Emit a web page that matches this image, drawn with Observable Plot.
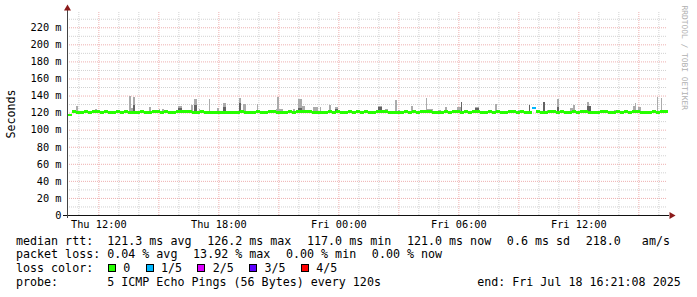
<!DOCTYPE html>
<html><head><meta charset="utf-8">
<script src="https://cdn.jsdelivr.net/npm/d3@7"></script>
<script src="https://cdn.jsdelivr.net/npm/@observablehq/plot@0.6"></script>
<style>
html,body{margin:0;padding:0;background:#fff;}
#wrap{width:697px;height:297px;overflow:hidden;font-family:"DejaVu Sans Mono",monospace;color:#000;}
#wrap svg{display:block}
.legend{font-size:11.66px;line-height:13.9px;white-space:pre;margin-top:0.5px;}
.row{display:flex;align-items:baseline;padding-left:16px;height:13.9px;}
.row.gap{gap:15.7px;}
.row.split{justify-content:space-between;padding-right:16.3px;}
.box{display:inline-block;width:6px;height:6px;border:1px solid #000;margin-bottom:1px;}
</style>
</head><body><div id="wrap"></div>
<script>
// ---- data ----
const medianStart = "2025-07-17T10:26";   // first median step
const medianStepMinutes = 12;
const medianValues = [
  117.5,122,121,121,122,121,122,122,121,122,
  121,121,122,121,122,121,121,121,122,121,
  121,122,122,121,122,121,121,122,122,122,
  122,121,121,122,121,121,121,121,121,121,
  121,121,121,122,121,121,121,122,121,121,
  122,122,121,121,121,122,121,122,122,122,
  122,121,121,121,121,122,121,122,121,121,
  122,121,122,121,122,121,121,122,122,122,
  121,121,121,121,122,121,122,121,122,122,
  122,121,121,121,122,121,122,122,121,122,
  121,122,122,121,121,122,121,122,121,121,
  122,122,121,122,121,121,126,122,121,121,
  122,122,121,122,121,121,122,121,122,122,
  121,121,121,122,122,121,121,122,121,122,
  121,122,122,121,121,121,122,121,122,122];
const lossTimes = ["07-18 09:38"];
const lossCounts = [1];
const lossLabels = ["0","1/5","2/5","3/5","4/5"];
const lossColors = ["#26ff00","#00b8ff","#dd00ff","#5e00ff","#ff0000"];

const smokeTime = ["07-17 10:53","07-17 11:50","07-17 13:32","07-17 13:38","07-17 13:44","07-17 14:32","07-17 15:02","07-17 15:11","07-17 15:59","07-17 16:38",
  "07-17 16:47","07-17 17:02","07-17 17:32","07-17 17:56","07-17 18:14","07-17 19:02","07-17 19:14","07-17 19:56","07-17 20:53","07-17 20:56",
  "07-17 21:44","07-17 21:59","07-17 22:11","07-17 22:44","07-17 22:53","07-17 23:05","07-17 23:32","07-17 23:50","07-18 01:59","07-18 02:20",
  "07-18 02:50","07-18 02:59","07-18 03:38","07-18 04:23","07-18 04:23","07-18 04:35","07-18 04:59","07-18 05:20","07-18 05:56","07-18 06:08",
  "07-18 06:20","07-18 06:50","07-18 07:50","07-18 08:29","07-18 08:59","07-18 09:32","07-18 09:56","07-18 10:14","07-18 10:26","07-18 10:56",
  "07-18 11:35","07-18 11:44","07-18 12:26","07-18 12:32","07-18 13:08","07-18 13:47","07-18 14:44","07-18 14:50","07-18 14:59","07-18 15:41",
  "07-18 15:56","07-18 16:08"];
const smokeMinutes = [6,6,6,9,6,6,3,6,12,6, 9,3,3,6,9,6,9,3,21,6, 6,12,9,9,6,3,6,9,12,9, 6,6,6,3,12,9,9,6,12,3, 3,12,6,15,6,3,3,6,9,6, 15,6,6,6,9,9,6,3,9,3, 3,3];
const smokeTop = [127.5,123.7,139,125,138.5,126,124,124,127.5,129, 136,124,136,125,131,137.7,129.5,130,124,138.5,
  124.4,136,128,126,127,127,129,127,128,124.5, 134.6,123.5,128,137,124.5,124.5,123.5,127,126,132,
  123,126.5,130,123.5,123.5,129,123,132,123.5,136, 125,129,133,127.5,123,123.5,127.5,131.4,126.5,123, 138,137];
const smokeDark = [null,null,null,null,129, null,null,null,125,null, 128.5,null,null,null,126.4, 131,null,null,null,null,
  null,125,null,null,null, null,null,124.5,127,null, null,null,null,null,null, null,null,null,null,132,
  null,125,null,null,null, 129,null,132,null,127, null,null,127.5,127.5,null, null,null,null,null,null, null,null];
const smokeBase = 120.5;

const yTicks = [0,20,40,60,80,100,120,140,160,180,200,220];
const xTicks = ["2025-07-17T12:00","2025-07-17T18:00","2025-07-18T00:00","2025-07-18T06:00","2025-07-18T12:00"];
const xDomain = ["2025-07-17T10:26","2025-07-18T16:26"];
const yMax = 237.9;

const statNames = ["avg","max","min","now"];
const medianStats = [121.3,126.2,117.0,121.0];
const medianSd = 0.6, medianAms = 218.0;
const lossStats = [0.04,13.92,0.00,0.00];
const probeText = "5 ICMP Echo Pings (56 Bytes) every 120s";
const endText = "Fri Jul 18 16:21:08 2025";

// ---- build ----
const D = s => new Date(s + ":00Z");
const T = s => D("2025-" + s.replace(" ", "T"));
const MIN = 60000;
const t0 = D(medianStart);
const lossByTime = new Map(lossTimes.map((s,i)=>[+T(s), lossCounts[i]]));
const med = medianValues.map((v,k)=>{
  const a = new Date(+t0 + k*medianStepMinutes*MIN);
  return {a, b:new Date(+a + medianStepMinutes*MIN), v, loss: lossByTime.get(+a) || 0};
});
const smoke = smokeTime.map((s,i)=>({a:T(s), b:new Date(+T(s)+smokeMinutes[i]*MIN), top:smokeTop[i], dark:smokeDark[i]}));
const dom = xDomain.map(D);
const hours = d3.utcHour.every(1).range(dom[0], dom[1]);
const majorX = hours.filter(d=>d.getUTCHours()%3===0);
const minorX = hours.filter(d=>d.getUTCHours()%3!==0);
const yAll = d3.range(0, yMax, 10);
const majorY = yAll.filter(v=>v%20===0 && v>0);
const minorY = yAll.filter(v=>v%20!==0);
const fmtX = d3.utcFormat("%a %H:%M");

const chart = Plot.plot({
  width: 697, height: 234,
  marginLeft: 67, marginRight: 30, marginTop: 12, marginBottom: 19,
  x: {type: "utc", domain: dom},
  y: {domain: [0, yMax]},
  style: {fontFamily: "DejaVu Sans Mono", fontSize: "10.3px", background: "#fff", color: "#000"},
  marks: [
    Plot.ruleY(minorY, {stroke: "#d2d2d2", strokeDasharray: "1,1"}),
    Plot.ruleX(minorX, {stroke: "#d2d2d2", strokeDasharray: "1,1"}),
    Plot.ruleY(majorY, {stroke: "#eeb0b0", strokeDasharray: "1,1"}),
    Plot.ruleX(majorX, {stroke: "#eeb0b0", strokeDasharray: "1,1"}),
    Plot.rect(smoke, {x1: "a", x2: "b", y1: () => smokeBase, y2: "top", fill: "#ababab", shapeRendering: "crispEdges"}),
    Plot.rect(smoke.filter(d=>d.dark != null), {x1: "a", x2: "b", y1: () => smokeBase, y2: "dark", fill: "#636363", shapeRendering: "crispEdges"}),
    Plot.link(med, {x1: "a", x2: "b", y1: "v", y2: "v", stroke: d => lossColors[d.loss], strokeWidth: 2.5, shapeRendering: "crispEdges"}),
    Plot.ruleY([0], {stroke: "#111", insetLeft: -4, insetRight: -2}),
    Plot.ruleX([dom[0]], {stroke: "#444", insetTop: -4, insetBottom: -3}),
    Plot.dot([dom[0]], {x: d => d, y: () => yMax, symbol: "triangle", r: 2.6, fill: "#8b1a1a", dy: -4}),
    Plot.dot([dom[1]], {x: d => d, y: () => 0, symbol: "triangle", r: 2.6, fill: "#8b1a1a", rotate: 90, dx: 4}),
    Plot.axisY(yTicks, {tickSize: 0, tickPadding: 6, label: null, tickFormat: d => d === 0 ? "0" : `${d} m`}),
    Plot.axisX(xTicks.map(D), {tickSize: 0, tickPadding: 5, label: null, tickFormat: fmtX}),
    Plot.text(["Seconds"], {frameAnchor: "left", dx: -56, rotate: -90, textAnchor: "middle", fontSize: 11.66}),
    Plot.text(["RRDTOOL / TOBI OETIKER"], {frameAnchor: "top-right", dx: 20, dy: -7, rotate: 90, textAnchor: "start", fill: "#b0b0b0", fontSize: 7.9})
  ]
});
const wrap = document.getElementById("wrap");
wrap.appendChild(chart);

const leg = document.createElement("div"); leg.className = "legend"; wrap.appendChild(leg);
function row(items, cls){
  const r = document.createElement("div"); r.className = "row " + cls;
  items.forEach(s => { const e = document.createElement("span"); e.textContent = s; r.appendChild(e); });
  leg.appendChild(r); return r;
}
const f1 = v => v.toFixed(1), f2 = v => v.toFixed(2);
row([`median rtt:  ${f1(medianStats[0])} ms ${statNames[0]}`,
     ...medianStats.slice(1).map((v,i)=>`${f1(v)} ms ${statNames[i+1]}`),
     `${f1(medianSd)} ms sd`, `${f1(medianAms)}   am/s`], "gap");
row([`packet loss: ${f2(lossStats[0])} % ${statNames[0]}`,
     ...lossStats.slice(1).map((v,i)=>`${f2(v)} % ${statNames[i+1]}`)], "gap");
const r3 = row(["loss color:"], "");
lossLabels.forEach((l,i)=>{
  const b = document.createElement("span"); b.className = "box";
  b.style.background = lossColors[i]; b.style.marginLeft = i === 0 ? "14.8px" : "15.4px";
  const t = document.createElement("span"); t.textContent = l; t.style.marginLeft = "7.3px";
  r3.appendChild(b); r3.appendChild(t);
});
row([`probe:       ${probeText}`, `end: ${endText}`], "split");
</script></body></html>
